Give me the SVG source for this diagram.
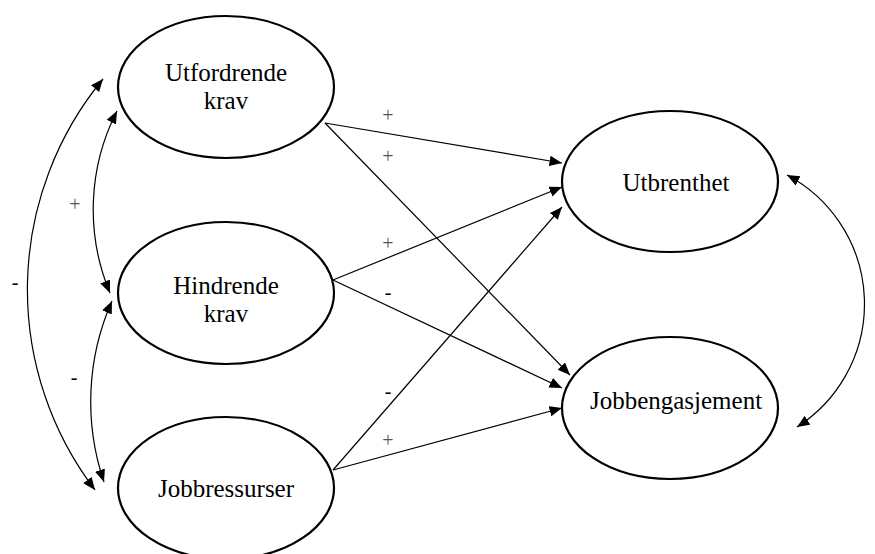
<svg xmlns="http://www.w3.org/2000/svg" width="875" height="554" viewBox="0 0 875 554">
<defs>
<style>
.node ellipse{fill:#fff;stroke:#000;stroke-width:2.2}
.node text{font-family:"Liberation Serif","Times New Roman",serif;font-size:25px;fill:#000;text-anchor:middle}
.conn path{fill:none;stroke:#000;stroke-width:1.2}
.lbl{font-family:"Liberation Serif","Times New Roman",serif;font-size:20px;text-anchor:middle}
.plus{fill:#555}
.minus{fill:#000}
</style>
<marker id="ah" markerUnits="userSpaceOnUse" markerWidth="14" markerHeight="12" refX="12.5" refY="5.25" orient="auto-start-reverse">
<path d="M0,0 L12.5,5.25 L0,10.5 z" fill="#000"/>
</marker>
</defs>
<rect width="875" height="554" fill="#fff"/>
<g class="conn">
<path d="M325,123 L562,163" marker-end="url(#ah)"/>
<path d="M325,123 L570,375" marker-end="url(#ah)"/>
<path d="M333,280 L562,187" marker-end="url(#ah)"/>
<path d="M333,280 L562,388" marker-end="url(#ah)"/>
<path d="M333,470 L562,207" marker-end="url(#ah)"/>
<path d="M333,470 L562,408" marker-end="url(#ah)"/>
<path d="M103,79 A331 331 0 0 0 95,490" marker-start="url(#ah)" marker-end="url(#ah)"/>
<path d="M117,111 A216 216 0 0 0 110,293" marker-start="url(#ah)" marker-end="url(#ah)"/>
<path d="M112,301 A249 249 0 0 0 104,482" marker-start="url(#ah)" marker-end="url(#ah)"/>
<path d="M787,175 A146 146 0 0 1 797,427" marker-start="url(#ah)" marker-end="url(#ah)"/>
</g>
<g id="utfordrende" class="node">
<ellipse cx="226" cy="87" rx="108" ry="71"/>
<text x="226" y="81">Utfordrende</text>
<text x="226" y="109">krav</text>
</g>
<g id="hindrende" class="node">
<ellipse cx="226" cy="293" rx="108" ry="71"/>
<text x="226" y="294">Hindrende</text>
<text x="226" y="322">krav</text>
</g>
<g id="jobbressurser" class="node">
<ellipse cx="226" cy="488" rx="108" ry="71"/>
<text x="226" y="497">Jobbressurser</text>
</g>
<g id="utbrenthet" class="node">
<ellipse cx="670" cy="181.5" rx="108" ry="70.5"/>
<text x="676" y="191">Utbrenthet</text>
</g>
<g id="jobbengasjement" class="node">
<ellipse cx="670" cy="408" rx="108" ry="71"/>
<text x="676" y="409">Jobbengasjement</text>
</g>
<g id="labels">
<text class="lbl plus" x="388" y="122">+</text>
<text class="lbl plus" x="388" y="163">+</text>
<text class="lbl plus" x="388" y="250">+</text>
<text class="lbl minus" x="388" y="299">-</text>
<text class="lbl minus" x="388" y="398">-</text>
<text class="lbl plus" x="388" y="447">+</text>
<text class="lbl plus" x="75" y="211">+</text>
<text class="lbl minus" x="15" y="289">-</text>
<text class="lbl minus" x="74" y="384">-</text>
</g>
</svg>
